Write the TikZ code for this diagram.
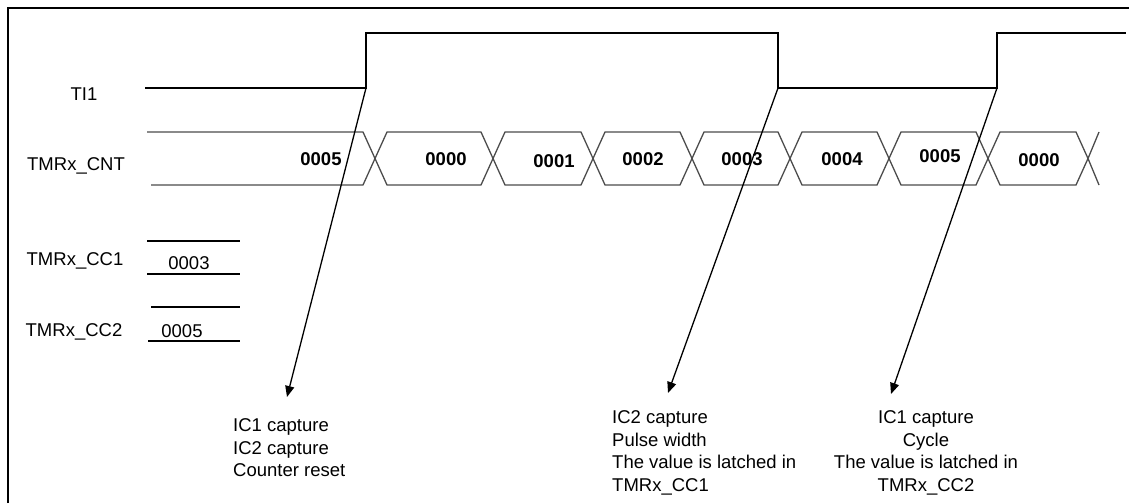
\documentclass[tikz,border=0pt]{standalone}
\usepackage{fontspec}
\setmainfont{Liberation Sans}
\usetikzlibrary{arrows.meta}

\begin{document}
\begin{tikzpicture}[
    x=1pt, y=-1pt,
    every node/.style={inner sep=0pt, font=\fontsize{18.5}{22.5}\selectfont},
    wave/.style={line width=1.4pt, black},
    bus/.style={line width=1.3pt, black!70},
    reg/.style={line width=1.3pt, black},
    sig/.style={anchor=base},
    val/.style={anchor=base, font=\fontsize{18.5}{22.5}\selectfont\bfseries},
    note/.style={align=left, anchor=north west},
    arrow/.style={-{Triangle[length=11pt,width=9pt]}, line width=1.3pt}
]
\useasboundingbox (0,0) rectangle (1129,503);

% Frame
\draw[line width=2pt] (8,503) -- (8,8) -- (1129,8);

% Signal names
\node[sig] (ti) at (84,100) {TI1};
\node[sig] (cnt) at (76,170) {TMRx\_CNT};
\node[sig] (cc1) at (75,265) {TMRx\_CC1};
\node[sig] (cc2) at (74,336) {TMRx\_CC2};

% TI1 waveform
\coordinate (r1) at (366,88);
\coordinate (f1) at (778,88);
\coordinate (r2) at (997,88);
\draw[wave] (145,88) -- (r1) -- (366,33) -- (778,33) -- (f1) -- (r2) -- (997,33) -- (1126,33);

% Counter bus
\draw[bus] (147,132) -- (363,132) -- (375,158.5) -- (363,185) -- (151,185);
\foreach \a/\b in {375/493, 493/593, 593/692, 692/790, 790/889, 889/988, 988/1088}
    \draw[bus] (\a,158.5) -- (\a+12,132) -- (\b-12,132) -- (\b,158.5) -- (\b-12,185) -- (\a+12,185) -- cycle;
\draw[bus] (1088,158.5) -- (1099,132);
\draw[bus] (1088,158.5) -- (1099,185);

% Counter values
\node[val] (v1) at (321,165) {0005};
\node[val] (v2) at (446,165) {0000};
\node[val] (v3) at (554,167) {0001};
\node[val] (v4) at (643,165) {0002};
\node[val] (v5) at (742,165) {0003};
\node[val] (v6) at (842,165) {0004};
\node[val] (v7) at (940,162) {0005};
\node[val] (v8) at (1039,166) {0000};

% Capture registers
\draw[reg] (147,241) -- (240,241);
\draw[reg] (147,274) -- (240,274);
\draw[reg] (151,307) -- (240,307);
\draw[reg] (148,341) -- (240,341);
\node[sig] (cc1val) at (189,269) {0003};
\node[sig] (cc2val) at (182,337) {0005};

% Capture events
\coordinate (a1) at (287,397);
\coordinate (a2) at (668,393);
\coordinate (a3) at (891,394);
\draw[arrow] (r1) -- (a1);
\draw[arrow] (f1) -- (a2);
\draw[arrow] (r2) -- (a3);

\node[note] (n1) at (233,418.5) {IC1 capture\\IC2 capture\\Counter reset};
\node[note] (n2) at (612,410.5) {IC2 capture\\Pulse width\\The value is latched in\\TMRx\_CC1};
\node[align=center, anchor=north] (n3) at (926,410.5) {IC1 capture\\Cycle\\The value is latched in\\TMRx\_CC2};

\end{tikzpicture}
\end{document}
